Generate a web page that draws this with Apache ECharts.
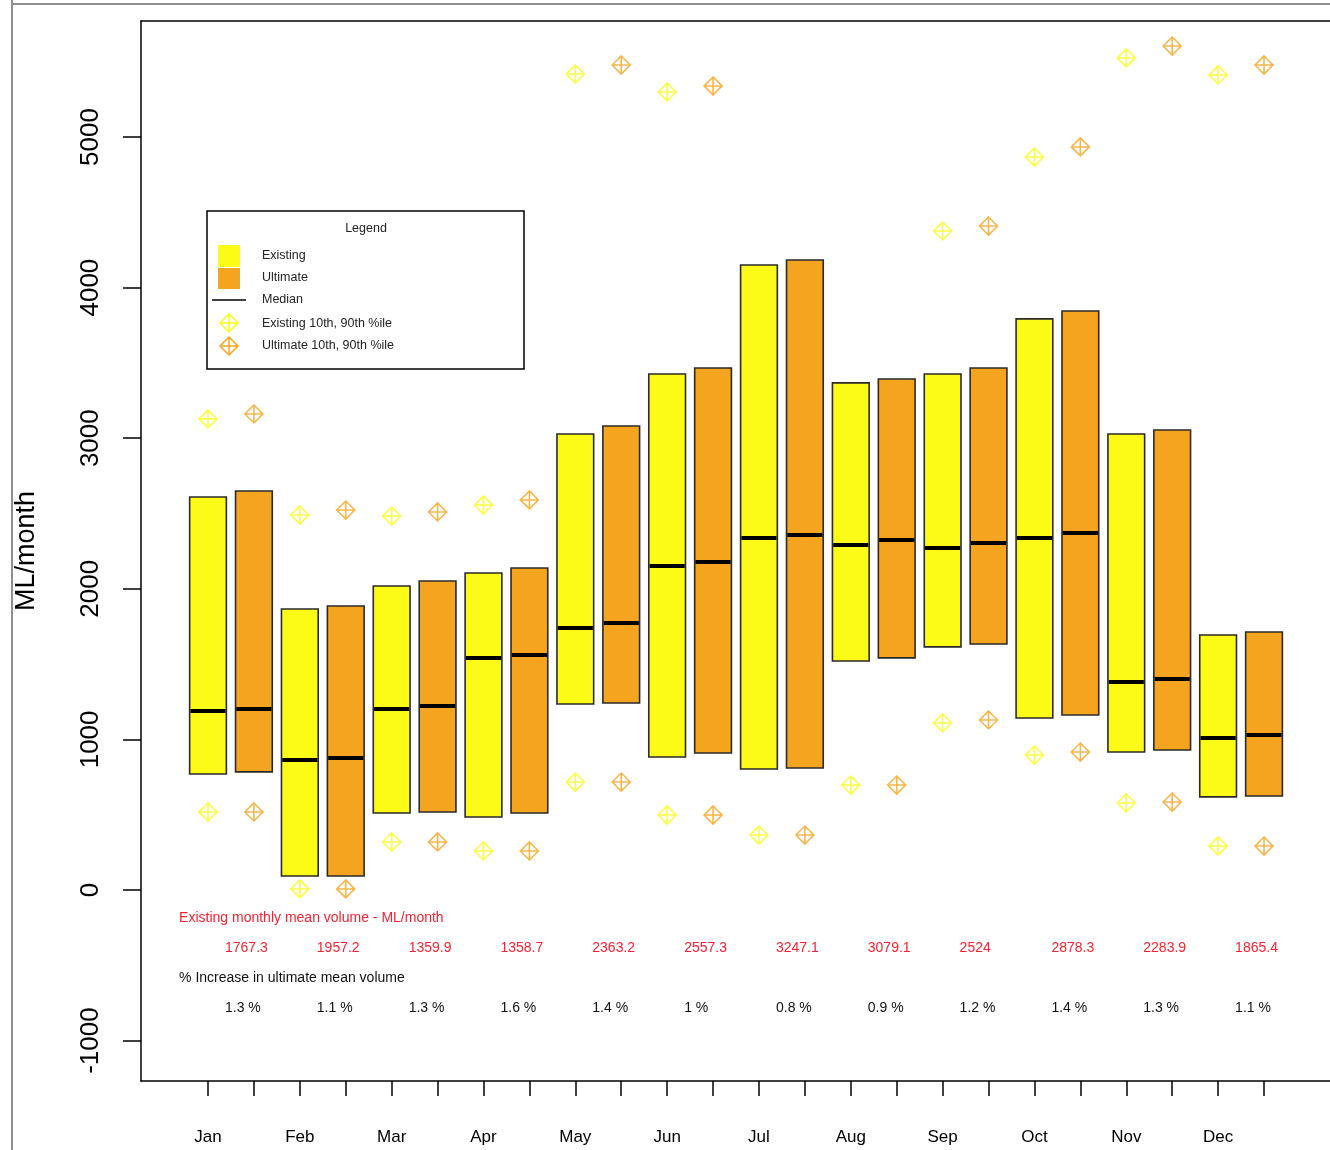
<!DOCTYPE html>
<html>
<head>
<meta charset="utf-8">
<title>Monthly volume – Existing vs Ultimate</title>
<script src="https://cdn.jsdelivr.net/npm/echarts@6/dist/echarts.min.js"></script>
<style>
  html, body { margin: 0; padding: 0; background: #fff; }
  #chart { width: 1330px; height: 1150px; }
</style>
</head>
<body>
<div id="chart"></div>
<script>
// Month names; each month has an Existing and an Ultimate box side by side
const months = ['Jan', 'Feb', 'Mar', 'Apr', 'May', 'Jun', 'Jul', 'Aug', 'Sep', 'Oct', 'Nov', 'Dec'];

// Existing scenario (ML/month): box lower/upper, median, 10th and 90th percentiles
const existLow    = [770, 93, 511, 485, 1235, 883, 803, 1521, 1614, 1142, 916, 618];
const existHigh   = [2610, 1866, 2019, 2105, 3028, 3426, 4150, 3367, 3426, 3792, 3028, 1693];
const existMedian = [1189, 863, 1202, 1541, 1740, 2151, 2337, 2291, 2271, 2337, 1381, 1009];
const existP10    = [518, 7, 319, 259, 717, 498, 365, 697, 1109, 896, 578, 292];
const existP90    = [3128, 2490, 2483, 2556, 5418, 5299, null, null, 4376, 4867, 5525, 5412];

// Ultimate scenario (ML/month)
const ultLow    = [784, 93, 518, 511, 1242, 910, 810, 1541, 1633, 1162, 930, 624];
const ultHigh   = [2649, 1886, 2052, 2138, 3081, 3466, 4183, 3393, 3466, 3845, 3054, 1713];
const ultMedian = [1202, 876, 1222, 1560, 1773, 2178, 2357, 2324, 2304, 2371, 1401, 1029];
const ultP10    = [518, 7, 319, 259, 717, 498, 365, 697, 1129, 916, 584, 292];
const ultP90    = [3161, 2523, 2510, 2590, 5478, 5339, null, null, 4409, 4934, 5604, 5478];

// Annotation rows below the boxes
const meanVolume  = ['1767.3', '1957.2', '1359.9', '1358.7', '2363.2', '2557.3', '3247.1', '3079.1', '2524', '2878.3', '2283.9', '1865.4'];
const pctIncrease = ['1.3 %', '1.1 %', '1.3 %', '1.6 %', '1.4 %', '1 %', '0.8 %', '0.9 %', '1.2 %', '1.4 %', '1.3 %', '1.1 %'];

// Axis ticks
const yTicks = [-1000, 0, 1000, 2000, 3000, 4000, 5000];
const xTicks = Array.from({ length: 24 }, (_, i) => i + 1);
const xLabelTicks = months.map((_, i) => 2 * i + 1);

const YELLOW = '#fbfb17';
const ORANGE = '#f5a41f';
const RED = '#fb2030';
const FONT = '"Liberation Sans", Arial, sans-serif';

// Diamond with a cross inside, used for the percentile markers
const markerPath = 'path://M10,0 L20,10 L10,20 L0,10 Z M10,0 L10,20 M0,10 L20,10';

function boxData(lo, hi, md, offset) {
  return months.map((_, i) => [2 * i + offset, lo[i], hi[i], md[i]]);
}
function pctData(p10, p90, offset) {
  const out = [];
  months.forEach((_, i) => {
    if (p10[i] != null) out.push([2 * i + offset, p10[i]]);
    if (p90[i] != null) out.push([2 * i + offset, p90[i]]);
  });
  return out;
}
function makeBoxRenderer(fill) {
  return function (params, api) {
    const x = api.value(0);
    const pLo = api.coord([x, api.value(1)]);
    const pHi = api.coord([x, api.value(2)]);
    const pMd = api.coord([x, api.value(3)]);
    const w = api.size([0.8, 0])[0];
    return {
      type: 'group',
      children: [
        { type: 'rect', shape: { x: pLo[0] - w / 2, y: pHi[1], width: w, height: pLo[1] - pHi[1] },
          style: { fill: fill, stroke: '#2a2a2a', lineWidth: 1.6 } },
        { type: 'rect', shape: { x: pMd[0] - w / 2 + 0.8, y: pMd[1] - 2, width: w - 1.6, height: 4 },
          style: { fill: '#000' } }
      ]
    };
  };
}

// Mean-volume and %-increase rows, placed in data units below zero
function renderNotes(params, api) {
  const i = params.dataIndex;
  const x = 2 * i + 1.37;
  const pMean = api.coord([x, -385]);
  const pPct = api.coord([x, -784]);
  const children = [
    { type: 'text', x: pMean[0], y: pMean[1],
      style: { text: meanVolume[i], fill: RED, font: '14px ' + FONT,
               textAlign: 'left', textVerticalAlign: 'middle' } },
    { type: 'text', x: pPct[0], y: pPct[1],
      style: { text: pctIncrease[i], fill: '#111', font: '14px ' + FONT,
               textAlign: 'left', textVerticalAlign: 'middle' } }
  ];
  if (i === 0) {
    const hx = api.coord([0.37, -186]);
    const hy = api.coord([0.37, -584]);
    children.push(
      { type: 'text', x: hx[0], y: hx[1],
        style: { text: 'Existing monthly mean volume - ML/month', fill: RED,
                 font: '14px ' + FONT, textAlign: 'left', textVerticalAlign: 'middle' } },
      { type: 'text', x: hy[0], y: hy[1],
        style: { text: '% Increase in ultimate mean volume', fill: '#111',
                 font: '14px ' + FONT, textAlign: 'left', textVerticalAlign: 'middle' } }
    );
  }
  return { type: 'group', children: children };
}

// Legend box drawn as graphic elements
const LEG_FONT = '12.5px ' + FONT;
function legendMarker(cx, cy, color) {
  return [
    { type: 'polygon', shape: { points: [[cx, cy - 9], [cx + 9, cy], [cx, cy + 9], [cx - 9, cy]] },
      style: { fill: 'none', stroke: color, lineWidth: 1.5 } },
    { type: 'line', shape: { x1: cx, y1: cy - 9, x2: cx, y2: cy + 9 }, style: { stroke: color, lineWidth: 1.5 } },
    { type: 'line', shape: { x1: cx - 9, y1: cy, x2: cx + 9, y2: cy }, style: { stroke: color, lineWidth: 1.5 } }
  ];
}
const legendElements = [
  { type: 'rect', shape: { x: 207, y: 211, width: 317, height: 158 },
    style: { fill: '#fff', stroke: '#000', lineWidth: 1.5 } },
  { type: 'text', x: 366, y: 229, style: { text: 'Legend', font: LEG_FONT, fill: '#222', textAlign: 'center', textVerticalAlign: 'middle' } },
  { type: 'rect', shape: { x: 218, y: 245, width: 22, height: 22 }, style: { fill: YELLOW } },
  { type: 'rect', shape: { x: 218, y: 268, width: 22, height: 21 }, style: { fill: ORANGE } },
  { type: 'line', shape: { x1: 212, y1: 300, x2: 246, y2: 300 }, style: { stroke: '#000', lineWidth: 1.5 } },
  ...legendMarker(229, 323, YELLOW),
  ...legendMarker(229, 346, ORANGE),
  { type: 'text', x: 262, y: 256, style: { text: 'Existing', font: LEG_FONT, fill: '#222', textVerticalAlign: 'middle' } },
  { type: 'text', x: 262, y: 278, style: { text: 'Ultimate', font: LEG_FONT, fill: '#222', textVerticalAlign: 'middle' } },
  { type: 'text', x: 262, y: 300, style: { text: 'Median', font: LEG_FONT, fill: '#222', textVerticalAlign: 'middle' } },
  { type: 'text', x: 262, y: 324, style: { text: 'Existing 10th, 90th %ile', font: LEG_FONT, fill: '#222', textVerticalAlign: 'middle' } },
  { type: 'text', x: 262, y: 346, style: { text: 'Ultimate 10th, 90th %ile', font: LEG_FONT, fill: '#222', textVerticalAlign: 'middle' } }
];

const chart = echarts.init(document.getElementById('chart'), null, { renderer: 'canvas' });

chart.setOption({
  animation: false,
  backgroundColor: '#fff',
  textStyle: { fontFamily: FONT },
  // plot area runs to the right edge of the page (open on the right)
  grid: { left: 141, top: 21, right: 0, bottom: 69, show: false },
  xAxis: [{
    type: 'value',
    min: -0.4593, max: 25.437,
    axisLine: { show: true, onZero: false, lineStyle: { color: '#000', width: 1.5 } },
    axisTick: { show: true, customValues: xTicks, length: 15, lineStyle: { color: '#000', width: 1.5 } },
    axisLabel: {
      show: true, customValues: xLabelTicks, margin: 48, fontSize: 17, color: '#000',
      formatter: v => months[Math.round((v - 1) / 2)] || ''
    },
    splitLine: { show: false }
  }, {
    // top frame line
    type: 'value', position: 'top',
    min: -0.4593, max: 25.437,
    axisLine: { show: true, onZero: false, lineStyle: { color: '#000', width: 1.5 } },
    axisTick: { show: false }, axisLabel: { show: false }, splitLine: { show: false }
  }],
  yAxis: {
    type: 'value',
    min: -1268.3, max: 5770.2,
    name: 'ML/month', nameLocation: 'middle', nameGap: 101, nameRotate: 90,
    nameTextStyle: { fontSize: 27, color: '#000' },
    axisLine: { show: true, onZero: false, lineStyle: { color: '#000', width: 1.5 } },
    axisTick: { show: true, customValues: yTicks, length: 18, lineStyle: { color: '#000', width: 1.5 } },
    axisLabel: { show: true, customValues: yTicks, rotate: 90, fontSize: 26, color: '#000', margin: 37,
                 formatter: v => String(v) },
    splitLine: { show: false }
  },
  graphic: [
    { type: 'line', shape: { x1: 12, y1: 0, x2: 12, y2: 1150 }, style: { stroke: '#8f8f8f', lineWidth: 2 } },
    { type: 'line', shape: { x1: 12, y1: 4, x2: 1330, y2: 4 }, style: { stroke: '#8f8f8f', lineWidth: 2 } },
    { type: 'group', z: 100, children: legendElements }
  ],
  series: [
    { name: 'Existing', type: 'custom', renderItem: makeBoxRenderer(YELLOW),
      encode: { x: 0, y: [1, 2, 3] }, data: boxData(existLow, existHigh, existMedian, 1) },
    { name: 'Ultimate', type: 'custom', renderItem: makeBoxRenderer(ORANGE),
      encode: { x: 0, y: [1, 2, 3] }, data: boxData(ultLow, ultHigh, ultMedian, 2) },
    { name: 'Existing 10th, 90th %ile', type: 'scatter', symbol: markerPath, symbolSize: 18,
      itemStyle: { color: 'rgba(0,0,0,0)', borderColor: YELLOW, borderWidth: 1.6 },
      data: pctData(existP10, existP90, 1) },
    { name: 'Ultimate 10th, 90th %ile', type: 'scatter', symbol: markerPath, symbolSize: 18,
      itemStyle: { color: 'rgba(0,0,0,0)', borderColor: ORANGE, borderWidth: 1.6 },
      data: pctData(ultP10, ultP90, 2) },
    { name: 'notes', type: 'custom', renderItem: renderNotes, silent: true,
      encode: { x: 0 }, data: months.map((_, i) => [2 * i + 1]) }
  ]
});
</script>
</body>
</html>
